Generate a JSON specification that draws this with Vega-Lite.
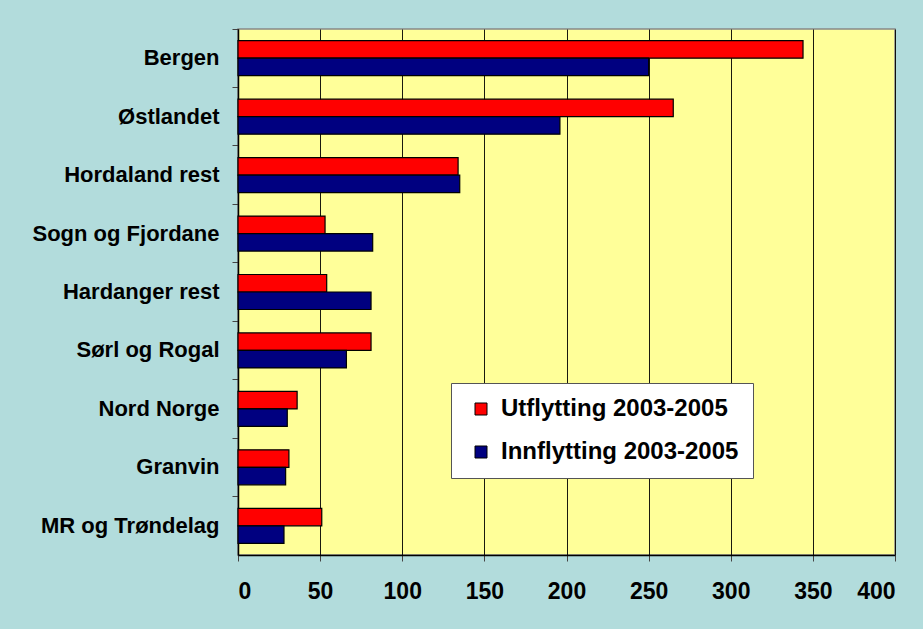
{
  "$schema": "https://vega.github.io/schema/vega-lite/v6.json",
  "width": 657,
  "height": 526,
  "autosize": {"type": "none"},
  "padding": {"left": 238, "top": 29, "right": 28, "bottom": 74},
  "background": "#b2dcdc",
  "data": {
    "values": [
      {"region": "Bergen", "serie": "Utflytting 2003-2005", "value": 344},
      {"region": "Bergen", "serie": "Innflytting 2003-2005", "value": 250},
      {"region": "Østlandet", "serie": "Utflytting 2003-2005", "value": 265},
      {"region": "Østlandet", "serie": "Innflytting 2003-2005", "value": 196},
      {"region": "Hordaland rest", "serie": "Utflytting 2003-2005", "value": 134},
      {"region": "Hordaland rest", "serie": "Innflytting 2003-2005", "value": 135},
      {"region": "Sogn og Fjordane", "serie": "Utflytting 2003-2005", "value": 53},
      {"region": "Sogn og Fjordane", "serie": "Innflytting 2003-2005", "value": 82},
      {"region": "Hardanger rest", "serie": "Utflytting 2003-2005", "value": 54},
      {"region": "Hardanger rest", "serie": "Innflytting 2003-2005", "value": 81},
      {"region": "Sørl og Rogal", "serie": "Utflytting 2003-2005", "value": 81},
      {"region": "Sørl og Rogal", "serie": "Innflytting 2003-2005", "value": 66},
      {"region": "Nord Norge", "serie": "Utflytting 2003-2005", "value": 36},
      {"region": "Nord Norge", "serie": "Innflytting 2003-2005", "value": 30},
      {"region": "Granvin", "serie": "Utflytting 2003-2005", "value": 31},
      {"region": "Granvin", "serie": "Innflytting 2003-2005", "value": 29},
      {"region": "MR og Trøndelag", "serie": "Utflytting 2003-2005", "value": 51},
      {"region": "MR og Trøndelag", "serie": "Innflytting 2003-2005", "value": 28}
    ]
  },
  "mark": {"type": "bar", "stroke": "#000000", "strokeWidth": 1.2},
  "encoding": {
    "y": {
      "field": "region",
      "type": "nominal",
      "sort": null,
      "scale": {"paddingInner": 0, "paddingOuter": 0},
      "axis": {
        "title": null,
        "bandPosition": 0,
        "labelFont": "Liberation Sans",
        "labelFontWeight": "bold",
        "labelFontSize": 22,
        "labelColor": "#000000",
        "labelPadding": 13,
        "labelLimit": 300,
        "tickSize": 6,
        "tickColor": "#444444",
        "domainColor": "#000000",
        "domainWidth": 1.5,
        "grid": false
      }
    },
    "yOffset": {
      "field": "serie",
      "type": "nominal",
      "sort": ["Utflytting 2003-2005", "Innflytting 2003-2005"],
      "scale": {"paddingInner": 0, "paddingOuter": 0.67}
    },
    "x": {
      "field": "value",
      "type": "quantitative",
      "scale": {"domain": [0, 400], "nice": false},
      "axis": {
        "title": null,
        "values": [0, 50, 100, 150, 200, 250, 300, 350, 400],
        "labelFont": "Liberation Sans",
        "labelFontWeight": "bold",
        "labelFontSize": 23,
        "labelColor": "#000000",
        "labelPadding": 19,
        "tickSize": 6,
        "tickColor": "#444444",
        "domainColor": "#000000",
        "domainWidth": 1.5,
        "grid": true,
        "gridColor": "#000000",
        "gridWidth": 1,
        "gridOpacity": 0.9
      }
    },
    "color": {
      "field": "serie",
      "type": "nominal",
      "sort": ["Utflytting 2003-2005", "Innflytting 2003-2005"],
      "scale": {"domain": ["Utflytting 2003-2005", "Innflytting 2003-2005"], "range": ["#ff0000", "#000080"]},
      "legend": {
        "title": null,
        "orient": "none",
        "legendX": 213,
        "legendY": 354,
        "fillColor": "#ffffff",
        "strokeColor": "#555555",
        "padding": 14,
        "rowPadding": 19,
        "symbolType": "square",
        "symbolSize": 144,
        "symbolStrokeColor": "#000000",
        "symbolStrokeWidth": 1,
        "symbolOffset": 4,
        "labelFont": "Liberation Sans",
        "labelFontWeight": "bold",
        "labelFontSize": 24,
        "labelColor": "#000000",
        "labelOffset": 8,
        "labelLimit": 400
      }
    }
  },
  "config": {
    "view": {"fill": "#ffff99", "stroke": "#888888", "strokeWidth": 1.5}
  }
}
